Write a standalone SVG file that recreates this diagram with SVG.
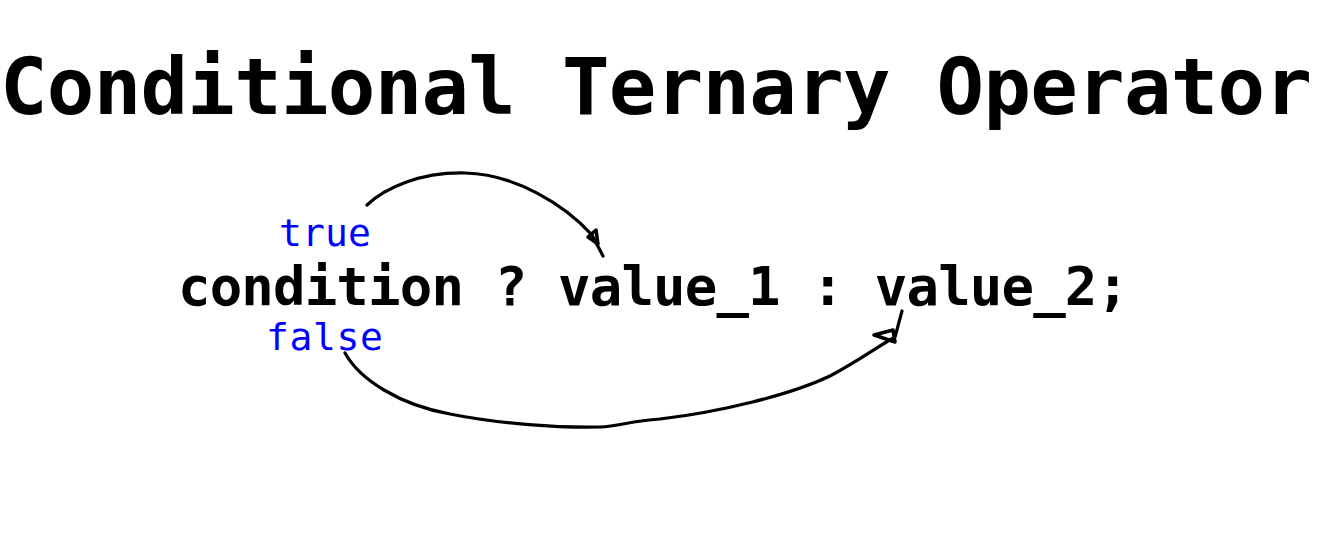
<svg xmlns="http://www.w3.org/2000/svg" width="1341" height="547" viewBox="0 0 1341 547">
<style>
.mono{font-family:"DejaVu Sans Mono","Liberation Mono",monospace;}
.big{font-weight:bold;fill:#000;}
.lbl{fill:#0000ff;font-weight:normal;}
.conn{fill:none;stroke:#000;stroke-width:3.2;stroke-linecap:round;stroke-linejoin:round;}
.head{fill:none;stroke:#000;stroke-width:3.5;stroke-linejoin:round;}
</style>
<rect width="1341" height="547" fill="#fff"/>
<g id="title">
<text class="mono big" x="0" y="114" font-size="79" textLength="1312" lengthAdjust="spacing">Conditional Ternary Operator</text>
</g>
<g id="expression">
<text class="mono big" x="178" y="305" font-size="54" textLength="951" lengthAdjust="spacing">condition ? value_1 : value_2;</text>
</g>
<g id="label-true">
<text class="mono lbl" x="279" y="246" font-size="38" textLength="92" lengthAdjust="spacing">true</text>
</g>
<g id="label-false">
<text class="mono lbl" x="266" y="350" font-size="38" textLength="117" lengthAdjust="spacing">false</text>
</g>
<g id="connectors">
<path class="conn" d="M367,205 C385,188 420,172 465,173 C515,174 565,205 592,235 L603,256"/>
<polygon class="head" points="588,237 596,230 598,244"/>
<path class="conn" d="M345,353 C360,380 400,405 450,414 C500,424 560,428 600,427 C620,426 630,421 660,419 C720,412 790,395 830,376 C860,360 880,345 895,337 L902,311"/>
<polygon class="head" points="874,335 893,330 895,342"/>
</g>
</svg>
